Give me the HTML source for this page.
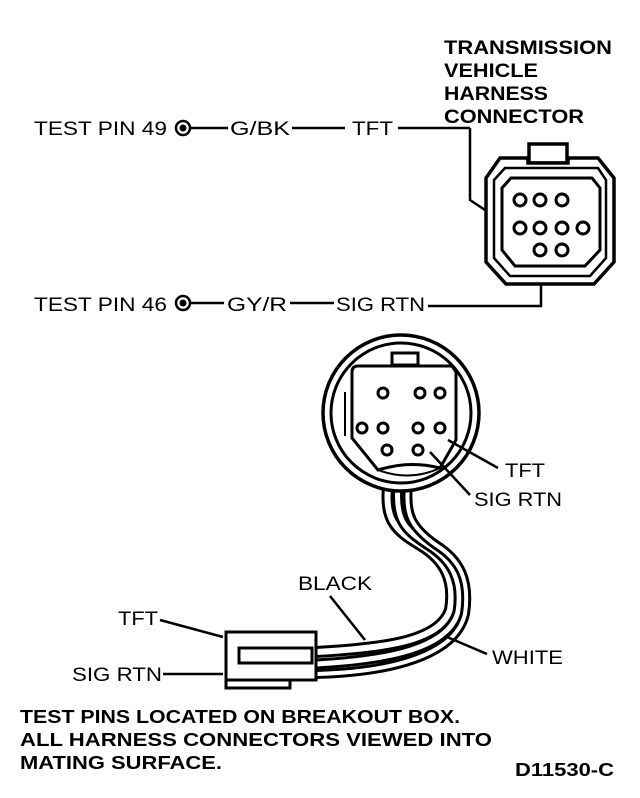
<!DOCTYPE html>
<html><head><meta charset="utf-8"><style>
html,body{margin:0;padding:0;background:#fff}
svg{display:block}
text{font-family:"Liberation Sans",sans-serif;fill:#000}
</style></head><body>
<svg width="640" height="798" viewBox="0 0 640 798" xmlns="http://www.w3.org/2000/svg">
<g font-size="19" lengthAdjust="spacingAndGlyphs">
<text x="34" y="135" textLength="133" lengthAdjust="spacingAndGlyphs">TEST PIN 49</text>
<text x="230" y="135" textLength="60" lengthAdjust="spacingAndGlyphs">G/BK</text>
<text x="352" y="135" textLength="41" lengthAdjust="spacingAndGlyphs">TFT</text>
<text x="34" y="311" textLength="133" lengthAdjust="spacingAndGlyphs">TEST PIN 46</text>
<text x="227" y="311" textLength="60" lengthAdjust="spacingAndGlyphs">GY/R</text>
<text x="336" y="311" textLength="89" lengthAdjust="spacingAndGlyphs">SIG RTN</text>
</g>
<g font-size="19" font-weight="bold">
<text x="444" y="54" textLength="168" lengthAdjust="spacingAndGlyphs">TRANSMISSION</text>
<text x="444" y="77" textLength="94" lengthAdjust="spacingAndGlyphs">VEHICLE</text>
<text x="444" y="100" textLength="104" lengthAdjust="spacingAndGlyphs">HARNESS</text>
<text x="444" y="123" textLength="140" lengthAdjust="spacingAndGlyphs">CONNECTOR</text>
</g>
<g fill="none" stroke="#000" stroke-width="2.5">
<circle cx="183" cy="128" r="7"/><circle cx="183" cy="303" r="7"/>
</g>
<circle cx="183" cy="128" r="3.5"/><circle cx="183" cy="303" r="3.5"/>
<g stroke="#000" stroke-width="2.5" fill="none">
<line x1="191" y1="128" x2="228" y2="128"/>
<line x1="292" y1="128" x2="345" y2="128"/>
<line x1="398" y1="128" x2="470" y2="128"/>
<polyline points="470,128 470,200 512,228"/>
<line x1="191" y1="303" x2="224" y2="303"/>
<line x1="290" y1="303" x2="334" y2="303"/>
<polyline points="428,306 541,306 541,250"/>
</g>
<!-- top connector -->
<g stroke="#000" stroke-width="3.5" fill="none">
<rect x="529" y="144" width="38" height="19" fill="#fff"/>
<path d="M500 158 L528 158 L528 163 L568 163 L568 158 L598 158 L614 178 L614 262 L594 284 L506 284 L486 262 L486 178 Z" fill="#fff"/>
<path d="M505 168 L598 168 L606 180 L606 258 L590 276 L510 276 L494 258 L494 180 Z" stroke-width="2.5"/>
<path d="M511 178 L592 178 L600 188 L600 250 L585 266 L515 266 L502 250 L502 188 Z" stroke-width="3"/>
<g stroke-width="3">
<circle cx="520" cy="200" r="6"/><circle cx="540" cy="200" r="6"/><circle cx="562" cy="200" r="6"/>
<circle cx="520" cy="228" r="6"/><circle cx="540" cy="228" r="6"/><circle cx="562" cy="228" r="6"/><circle cx="583" cy="228" r="6"/>
<circle cx="540" cy="250" r="6"/><circle cx="562" cy="250" r="6"/>
</g>
</g>
<!-- cable -->
<g fill="none" stroke="#000">
<path d="M388 486 C385 520 395 530 420 545 C445 560 455 580 450 610 C440 640 390 648 316 652" stroke-width="12"/>
<path d="M388 486 C385 520 395 530 420 545 C445 560 455 580 450 610 C440 640 390 648 316 652" stroke="#fff" stroke-width="6"/>
<path d="M398 486 C395 520 405 530 428 545 C452 560 463 580 458 612 C448 648 390 660 316 664" stroke-width="11"/>
<path d="M398 486 C395 520 405 530 428 545 C452 560 463 580 458 612 C448 648 390 660 316 664" stroke="#fff" stroke-width="5"/>
<path d="M408 486 C405 515 412 528 436 545 C460 560 470 580 465 614 C455 656 390 672 316 674" stroke-width="10"/>
<path d="M408 486 C405 515 412 528 436 545 C460 560 470 580 465 614 C455 656 390 672 316 674" stroke="#fff" stroke-width="4"/>
</g>
<!-- bottom connector -->
<g stroke="#000" fill="none">
<circle cx="401" cy="413" r="78" stroke-width="3.5" fill="#fff"/>
<circle cx="401" cy="413" r="70" stroke-width="3"/>
<rect x="392" y="353" width="26" height="12" stroke-width="3" fill="#fff"/>
<path d="M352 386 L352 372 Q352 366 358 366 L452 366 L456 372 L456 440 L440 468 Q410 460 378 470 L352 438 Z" stroke-width="3"/>
<path d="M345 392 L345 436" stroke-width="2"/>
<path d="M378 470 Q410 482 440 468" stroke-width="2"/>
<g stroke-width="3">
<circle cx="383" cy="393" r="5"/><circle cx="420" cy="393" r="5"/><circle cx="440" cy="393" r="5"/>
<circle cx="362" cy="428" r="5"/><circle cx="383" cy="428" r="5"/><circle cx="418" cy="428" r="5"/><circle cx="440" cy="428" r="5"/>
<circle cx="387" cy="450" r="5"/><circle cx="418" cy="450" r="5"/>
</g>
</g>
<!-- small connector -->
<g stroke="#000" stroke-width="3" fill="#fff">
<rect x="226" y="680" width="64" height="8"/>
<rect x="226" y="632" width="90" height="48"/>
<rect x="239" y="648" width="73" height="15"/>
</g>
<g stroke="#000" stroke-width="2.5" fill="none">
<line x1="448" y1="440" x2="498" y2="468"/>
<line x1="430" y1="452" x2="470" y2="495"/>
<line x1="330" y1="596" x2="365" y2="640"/>
<line x1="447" y1="637" x2="487" y2="654"/>
<line x1="160" y1="620" x2="223" y2="637"/>
<line x1="163" y1="674" x2="223" y2="674"/>
</g>
<g font-size="19">
<text x="505" y="477" textLength="40" lengthAdjust="spacingAndGlyphs">TFT</text>
<text x="474" y="506" textLength="88" lengthAdjust="spacingAndGlyphs">SIG RTN</text>
<text x="298" y="590" textLength="74" lengthAdjust="spacingAndGlyphs">BLACK</text>
<text x="492" y="664" textLength="71" lengthAdjust="spacingAndGlyphs">WHITE</text>
<text x="118" y="625" textLength="40" lengthAdjust="spacingAndGlyphs">TFT</text>
<text x="72" y="681" textLength="90" lengthAdjust="spacingAndGlyphs">SIG RTN</text>
</g>
<g font-size="18" font-weight="bold">
<text x="20" y="723" textLength="440" lengthAdjust="spacingAndGlyphs">TEST PINS LOCATED ON BREAKOUT BOX.</text>
<text x="20" y="746" textLength="472" lengthAdjust="spacingAndGlyphs">ALL HARNESS CONNECTORS VIEWED INTO</text>
<text x="20" y="769" textLength="202" lengthAdjust="spacingAndGlyphs">MATING SURFACE.</text>
<text x="515" y="776" textLength="99" lengthAdjust="spacingAndGlyphs">D11530-C</text>
</g>
</svg>
</body></html>
